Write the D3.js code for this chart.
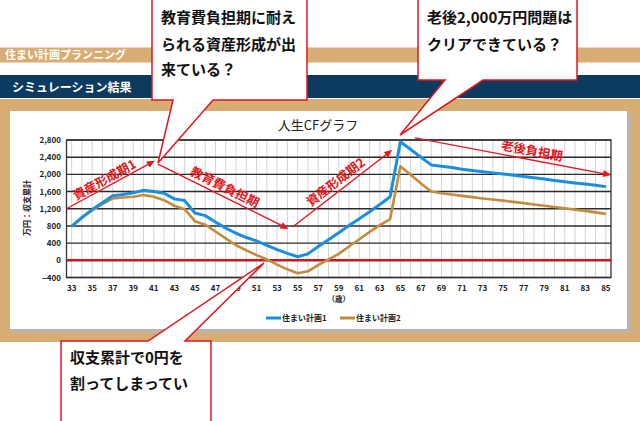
<!DOCTYPE html>
<html>
<head>
<meta charset="utf-8">
<script src="https://cdn.jsdelivr.net/npm/d3@7"></script>
<style>
  html, body { margin: 0; padding: 0; background: #fff; }
  svg { display: block; font-family: "Noto Sans CJK JP", "Noto Sans", sans-serif; }
</style>
</head>
<body>
<svg id="chart" width="640" height="421"></svg>
<script>
// ages on the category axis
var ages = d3.range(33, 86);

// 住まい計画1 (万円, cumulative balance)
var plan1 = [790, 1000, 1180, 1340, 1500, 1530, 1570, 1630, 1600, 1560,
  1430, 1390, 1100, 1040, 890, 750, 630, 530, 450, 350,
  250, 160, 84, 150, 320, 480, 640, 810, 970, 1130,
  1300, 1480, 2760, 2580, 2400, 2220, 2190, 2160, 2120, 2090,
  2060, 2035, 2010, 1980, 1950, 1920, 1890, 1860, 1830, 1800,
  1775, 1745, 1715];

// 住まい計画2
var plan2 = [790, 990, 1160, 1310, 1440, 1460, 1480, 1520, 1480, 1400,
  1270, 1190, 910, 830, 670, 510, 350, 230, 120, 20,
  -100, -210, -300, -255, -110, 20, 150, 320, 490, 660,
  820, 960, 2190, 1990, 1790, 1600, 1560, 1530, 1500, 1470,
  1440, 1415, 1390, 1360, 1330, 1300, 1270, 1240, 1210, 1180,
  1150, 1115, 1080];

var seriesNames = ['住まい計画1', '住まい計画2'];
var yTicks = d3.range(-400, 2801, 400);
var xTickAges = d3.range(33, 86, 2);

// phase arrows, in (age, 万円)
var phases = [
  { label: '資産形成期1', from: [32.5, 1200], to: [41.1, 2320], at: [36.2, 1870] },
  { label: '教育費負担期', from: [41.4, 2240], to: [54.1, 730], at: [47.9, 1700] },
  { label: '資産形成期2', from: [54.5, 775], to: [64.2, 2570], at: [58.7, 1820] },
  { label: '老後負担期', from: [66.4, 2850], to: [85.5, 1985], at: [77.8, 2545] }
];

// speech bubbles
var bubbles = [
  { lines: ['教育費負担期に耐え', 'られる資産形成が出', '来ている？'],
    box: [152, -2, 307, 100], base: [173, 213], tip: [158, 163], side: 'bottom', lineY: [18, 45, 70] },
  { lines: ['老後2,000万円問題は', 'クリアできている？'],
    box: [418, -2, 577, 80], base: [445, 483], tip: [400, 135], side: 'bottom', lineY: [18, 45] },
  { lines: ['収支累計で0円を', '割ってしまってい'],
    box: [61, 341, 211, 440], base: [148, 185], tip: [264, 263], side: 'top', lineY: [358, 384] }
];

var svg = d3.select('#chart');
var tan = '#d8ad73', navy = '#0c3b5f', red = '#e3161d';
var blue = '#1a8fde', brown = '#c48b3d';

// page header
svg.append('rect').attr('x', 0).attr('y', 47.5).attr('width', 640).attr('height', 15).attr('fill', tan);
svg.append('text').attr('x', 5).attr('y', 59).attr('fill', '#fff')
  .attr('font-size', 11).attr('font-weight', 'bold').text('住まい計画プランニング');
svg.append('rect').attr('x', 0).attr('y', 75).attr('width', 640).attr('height', 23).attr('fill', navy);
svg.append('text').attr('x', 12).attr('y', 92).attr('fill', '#fff')
  .attr('font-size', 12).attr('font-weight', 'bold').text('シミュレーション結果');

// frame
svg.append('rect').attr('x', 0).attr('y', 99).attr('width', 640).attr('height', 243).attr('fill', tan);
svg.append('rect').attr('x', 12).attr('y', 113).attr('width', 620).attr('height', 220).attr('fill', '#bdb3a6');
svg.append('rect').attr('x', 10).attr('y', 111).attr('width', 617).attr('height', 218).attr('fill', '#fff');

var x = d3.scalePoint().domain(ages).range([66.5, 611]).padding(0.5);
var xs = d3.scaleLinear().domain([33, 85]).range([x(33), x(85)]);
var y = d3.scaleLinear().domain([-400, 2800]).range([277.5, 140]);

var plot = svg.append('g');

// vertical grid
plot.selectAll('line.vg').data(ages).enter().append('line')
  .attr('x1', d => x(d)).attr('x2', d => x(d))
  .attr('y1', y(2800)).attr('y2', y(-400))
  .attr('stroke', '#d4d4d4').attr('stroke-width', 1);

// horizontal grid
plot.selectAll('line.hg').data(yTicks).enter().append('line')
  .attr('x1', 66.5).attr('x2', 611)
  .attr('y1', d => y(d)).attr('y2', d => y(d))
  .attr('stroke', '#2b2b2b').attr('stroke-width', 1.4);

// frame of plot
plot.append('rect').attr('x', 66.5).attr('y', y(2800)).attr('width', 611 - 66.5)
  .attr('height', y(-400) - y(2800)).attr('fill', 'none').attr('stroke', '#333').attr('stroke-width', 1.3);

// zero line
plot.append('line').attr('x1', 66.5).attr('x2', 611).attr('y1', y(0)).attr('y2', y(0))
  .attr('stroke', '#c8171c').attr('stroke-width', 2.6);

// y labels
plot.selectAll('text.yl').data(yTicks).enter().append('text')
  .attr('x', 61).attr('y', d => y(d) + 3).attr('text-anchor', 'end')
  .attr('font-size', 8).attr('font-weight', 'bold').attr('fill', '#222')
  .text(d => d3.format(',')(d));

// x labels
plot.selectAll('text.xl').data(xTickAges).enter().append('text')
  .attr('x', d => x(d)).attr('y', 291).attr('text-anchor', 'middle')
  .attr('font-size', 8).attr('font-weight', 'bold').attr('fill', '#222')
  .text(d => d);

svg.append('text').attr('x', x(59)).attr('y', 302).attr('text-anchor', 'middle')
  .attr('font-size', 7.5).attr('font-weight', 'bold').attr('fill', '#222').text('（歳）');

svg.append('text').attr('transform', 'translate(30,208) rotate(-90)')
  .attr('text-anchor', 'middle').attr('font-size', 8).attr('font-weight', 'bold').attr('fill', '#222')
  .text('万円：収支累計');

svg.append('text').attr('x', 318).attr('y', 130).attr('text-anchor', 'middle')
  .attr('font-size', 13).attr('fill', '#222').text('人生CFグラフ');

// series
var line = d3.line().x((d, i) => x(ages[i])).y(d => y(d));
plot.append('path').datum(plan2).attr('d', line).attr('fill', 'none')
  .attr('stroke', brown).attr('stroke-width', 2.6).attr('stroke-linejoin', 'round');
plot.append('path').datum(plan1).attr('d', line).attr('fill', 'none')
  .attr('stroke', blue).attr('stroke-width', 3).attr('stroke-linejoin', 'round');

// legend
var legend = svg.append('g').attr('transform', 'translate(266,318)');
[[0, blue], [74, brown]].forEach((l, i) => {
  legend.append('line').attr('x1', l[0]).attr('x2', l[0] + 15).attr('y1', 0).attr('y2', 0)
    .attr('stroke', l[1]).attr('stroke-width', 3);
  legend.append('text').attr('x', l[0] + 16).attr('y', 3).attr('font-size', 8).attr('font-weight', 'bold')
    .attr('fill', '#222').text(seriesNames[i]);
});

// phase arrows
var ann = svg.append('g');
phases.forEach(p => {
  var x1 = xs(p.from[0]), y1 = y(p.from[1]), x2 = xs(p.to[0]), y2 = y(p.to[1]);
  var ang = Math.atan2(y2 - y1, x2 - x1);
  var deg = ang * 180 / Math.PI;
  ann.append('line').attr('x1', x1).attr('y1', y1)
    .attr('x2', x2 - 5 * Math.cos(ang)).attr('y2', y2 - 5 * Math.sin(ang))
    .attr('stroke', red).attr('stroke-width', 1.4);
  ann.append('path').attr('d', 'M0,0 L-8,-3.5 L-8,3.5 Z')
    .attr('transform', 'translate(' + x2 + ',' + y2 + ') rotate(' + deg + ')').attr('fill', red);
  ann.append('text')
    .attr('transform', 'translate(' + xs(p.at[0]) + ',' + y(p.at[1]) + ') rotate(' + deg + ')')
    .attr('text-anchor', 'middle').attr('dy', '0.35em')
    .attr('font-size', 12.5).attr('font-weight', 'bold').attr('fill', red).text(p.label);
});

// bubbles
bubbles.forEach(b => {
  var l = b.box[0], t = b.box[1], r = b.box[2], bt = b.box[3];
  var path;
  if (b.side === 'bottom') {
    path = 'M' + l + ',' + t + 'L' + r + ',' + t + 'L' + r + ',' + bt + 'L' + b.base[1] + ',' + bt +
      'L' + b.tip[0] + ',' + b.tip[1] + 'L' + b.base[0] + ',' + bt + 'L' + l + ',' + bt + 'Z';
  } else {
    path = 'M' + l + ',' + t + 'L' + b.base[0] + ',' + t + 'L' + b.tip[0] + ',' + b.tip[1] +
      'L' + b.base[1] + ',' + t + 'L' + r + ',' + t + 'L' + r + ',' + bt + 'L' + l + ',' + bt + 'Z';
  }
  svg.append('path').attr('d', path).attr('fill', '#fff').attr('stroke', red).attr('stroke-width', 1.5);
  b.lines.forEach((s, i) => {
    svg.append('text').attr('x', l + 9).attr('y', b.lineY[i]).attr('dy', '0.36em')
      .attr('font-size', 15).attr('font-weight', 'bold').attr('fill', '#111').text(s);
  });
});
</script>
</body>
</html>
